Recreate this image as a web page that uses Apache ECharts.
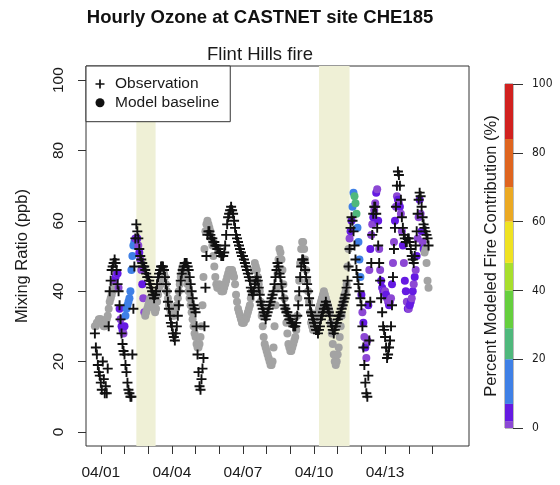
<!DOCTYPE html>
<html>
<head>
<meta charset="utf-8">
<script src="https://cdn.jsdelivr.net/npm/echarts@6/dist/echarts.min.js"></script>
<style>
  html, body { margin: 0; padding: 0; background: #ffffff; }
  #chart { width: 560px; height: 485px; }
</style>
</head>
<body>
<div id="chart"></div>
<script>
// Hourly values, first record at 03/31 18:00 local time.
// Time is counted in hours from 04/01 00:00.
const startHour = -6;

// Observed hourly ozone (ppb)
const observed = [
  28, 24, 22, 19, 17, 16,
  14, 12, 20, 15, 11, 13, 11, 18, 30, 40, 43, 46, 47, 48, 49, 48, 46, 42, 40, 36, 32, 28, 25, 23,
  22, 19, 17, 14, 12, 11, 10, 10, 22, 35, 47, 55, 59, 57, 55, 52, 50, 49, 48, 47, 47, 46, 45, 44,
  44, 43, 42, 41, 40, 39, 38, 39, 40, 42, 44, 45, 46, 47, 47, 47, 46, 44, 42, 40, 37, 35, 33, 31,
  30, 28, 27, 26, 28, 30, 33, 36, 40, 43, 45, 46, 47, 48, 48, 48, 47, 46, 44, 42, 40, 38, 36, 35,
  34, 30, 22, 17, 13, 12, 15, 18, 21, 30, 41, 50, 56, 57, 57, 56, 55, 55, 54, 54, 53, 53, 52, 52,
  51, 51, 50, 50, 50, 51, 53, 56, 59, 61, 62, 63, 64, 63, 62, 60, 58, 56, 55, 54, 53, 52, 51, 50,
  50, 49, 48, 47, 46, 45, 44, 43, 41, 40, 39, 40, 42, 43, 44, 43, 41, 39, 37, 36, 35, 34, 33, 32,
  33, 34, 35, 36, 37, 38, 39, 40, 42, 44, 46, 48, 47, 45, 44, 42, 40, 38, 36, 35, 34, 34, 33, 32,
  32, 31, 31, 30, 30, 30, 31, 33, 36, 40, 44, 47, 49, 49, 48, 46, 44, 42, 40, 38, 36, 34, 33, 32,
  31, 30, 29, 29, 28, 29, 30, 32, 33, 34, 35, 36, 37, 36, 35, 34, 33, 31, 30, 29, 28, 29, 30, 31,
  32, 33, 33, 34, 35, 36, 37, 38, 39, 41, 43, 47, 52, 58, 61, 60, 57, 53, 49, 46, 44, 42, 40, 38,
  36, 30, 24, 19, 14, 11, 10, 16, 26, 37, 48, 56, 62, 64, 64, 62, 58, 53, 48, 43, 38, 34, 30, 29,
  27, 24, 21, 22, 24, 26, 30, 36, 44, 52, 58, 64, 70, 74, 73, 70, 66, 61, 58, 56, 55, 54, 54, 55,
  55, 54, 52, 50, 49, 48, 50, 53, 57, 62, 66, 68, 67, 64, 61, 59, 58, 57, 56, 55, 53
];

// Model baseline hourly ozone (ppb)
const modelBaseline = [
  30, 30, 31, 31, 32, 32,
  32, 31, 31, 30, 30, 31, 32, 33, 35, 37, 38, 39, 40, 42, 43, 44, 45, 45, 41, 35, 32, 30, 29, 28,
  30, 33, 35, 36, 37, 38, 40, 46, 50, 53, 54, 55, 55, 55, 53, 51, 49, 46, 42, 38, 34, 33, 34, 35,
  36, 37, 38, 38, 37, 36, 35, 34, 35, 37, 39, 41, 43, 44, 45, 46, 45, 44, 42, 40, 38, 36, 35, 34,
  34, 33, 33, 34, 35, 36, 38, 40, 42, 44, 46, 47, 47, 46, 45, 44, 42, 40, 38, 36, 34, 32, 30, 28,
  27, 25, 24, 24, 25, 27, 30, 36, 44, 52, 57, 59, 60, 59, 58, 57, 55, 53, 50, 47, 44, 42, 41, 41,
  42, 41, 40, 40, 40, 41, 42, 43, 44, 45, 46, 46, 46, 46, 45, 44, 42, 39, 37, 35, 34, 33, 32, 31,
  31, 31, 32, 32, 33, 34, 35, 36, 38, 40, 43, 46, 48, 47, 46, 44, 42, 40, 37, 33, 30, 27, 25, 24,
  23, 22, 21, 20, 19, 19, 20, 24, 30, 36, 41, 45, 49, 52, 51, 49, 46, 42, 38, 35, 31, 28, 25, 24,
  23, 23, 24, 25, 26, 27, 29, 33, 38, 43, 48, 52, 54, 54, 52, 49, 46, 43, 40, 37, 34, 31, 30, 29,
  30, 31, 32, 33, 34, 35, 36, 37, 38, 39, 40, 39, 38, 37, 36, 35, 34, 31, 28, 25, 22, 20, 19, 20,
  22, 24, 27, 30, 33, 36, 38, 39, 40, 42, 47, 52, 55, 57, 60, 64, 68, 67, 65, 62, 58, 54, 49, 44,
  39, 34, 31, 27, 24, 21, 26, 36, 46, 52, 56, 59, 61, 63, 65, 68, 69, 60, 52, 46, 43, 41, 40, 40,
  40, 39, 38, 37, 36, 37, 38, 42, 48, 54, 60, 64, 67, 66, 65, 64, 62, 57, 53, 48, 43, 40, 37, 35,
  35, 36, 37, 38, 40, 42, 44, 46, 50, 55, 61, 66, 62, 57, 54, 52, 51, 52, 48, 43, 41
];

// Modeled fire contribution to the baseline (%), 0 = none
const firePercent = [
  0, 0, 0, 0, 0, 0,
  0, 0, 0, 0, 0, 0, 0, 0, 0, 0, 0, 0, 0, 0, 1.5, 4, 1.5, 5, 1.5, 4, 1.5, 5, 4, 1.5,
  4, 11, 12, 13, 14, 15, 14, 13, 12, 11, 12, 5, 1.5, 4, 1.5, 5, 1.5, 1.5, 4, 1.5, 1.5, 0, 0, 0,
  0, 0, 0, 0, 0, 0, 0, 0, 0, 0, 0, 0, 0, 0, 0, 0, 0, 0, 0, 0, 0, 0, 0, 0,
  0, 0, 0, 0, 0, 0, 0, 0, 0, 0, 0, 0, 0, 0, 0, 0, 0, 0, 0, 0, 0, 0, 0, 0,
  0, 0, 0, 0, 0, 0, 0, 0, 0, 0, 0, 0, 0, 0, 0, 0, 0, 0, 0, 0, 0, 0, 0, 0,
  0, 0, 0, 0, 0, 0, 0, 0, 0, 0, 0, 0, 0, 0, 0, 0, 0, 0, 0, 0, 0, 0, 0, 0,
  0, 0, 0, 0, 0, 0, 0, 0, 0, 0, 0, 0, 0, 0, 0, 0, 0, 0, 0, 0, 0, 0, 0, 0,
  0, 0, 0, 0, 0, 0, 0, 0, 0, 0, 0, 0, 0, 0, 0, 0, 0, 0, 0, 0, 0, 0, 0, 0,
  0, 0, 0, 0, 0, 0, 0, 0, 0, 0, 0, 0, 0, 0, 0, 0, 0, 0, 0, 0, 0, 0, 0, 0,
  0, 0, 0, 0, 0, 0, 0, 0, 0, 0, 0, 0, 0, 0, 0, 0, 0, 0, 0, 0, 0, 0, 0, 0,
  0, 0, 0, 0, 0, 0, 0, 0, 0, 0, 0, 0, 1.5, 4, 5, 13, 16, 24, 26, 23, 17, 15, 12, 9,
  4, 1.5, 5, 1.5, 4, 1.5, 1.5, 4, 1.5, 5, 1.5, 1.5, 4, 1.5, 1.5, 5, 1.5, 4, 1.5, 1.5, 4, 5, 1.5, 4,
  1.5, 4, 5, 1.5, 4, 1.5, 1.5, 4, 1.5, 1.5, 5, 1.5, 1.5, 4, 1.5, 5, 1.5, 1.5, 4, 1.5, 5, 4, 1.5, 4,
  1.5, 4, 5, 1.5, 4, 1.5, 5, 1.5, 4, 1.5, 1.5, 5, 1.5, 4, 1.5, 4, 0, 0, 0, 0, 0
];

// Fire periods (hours from 04/01 00:00)
const firePeriods = [[36, 55.5], [221, 252]];

// Axis ticks
const dayTicks = [0, 24, 48, 72, 96, 120, 144, 168, 192, 216, 240, 264, 288, 312, 336];
const dayLabelTicks = [0, 72, 144, 216, 288];
const ozoneTicks = [0, 20, 40, 60, 80, 100];
const percentTicks = [0, 20, 40, 60, 80, 100];

// Fire contribution colour scale
const colorBreaks = [0, 2, 7, 20, 29, 40, 48, 60, 70, 84, 100];
const colorSteps = ['#8c48d4', '#651ae2', '#3f80e6', '#4fb87c', '#66cf3e', '#a8df2c', '#efe222', '#eba923', '#df651f', '#d1211f'];
const noFireColor = '#a3a3a3';

const FONT = "'Liberation Sans', Arial, Helvetica, sans-serif";
const NARROW = "'Liberation Sans Narrow', 'DejaVu Sans Condensed', 'Liberation Sans', sans-serif";
const PLUS = 'path://M4.05,0H5.95V4.05H10V5.95H5.95V10H4.05V5.95H0V4.05H4.05Z';

function fireColor(p) {
  if (!p) return noFireColor;
  for (let k = 0; k < colorSteps.length; k++) {
    if (p < colorBreaks[k + 1]) return colorSteps[k];
  }
  return colorSteps[colorSteps.length - 1];
}

function dayLabel(h) {
  const d = Math.round(h / 24) + 1;
  return '04/' + String(d).padStart(2, '0');
}

const obsPoints = observed.map((v, i) => [startHour + i, v]);
const modelPoints = modelBaseline.map((v, i) => [startHour + i, v, firePercent[i]]);

// Colour bar built as stacked bars on its own 0-100 axis
const colorBarSeries = colorSteps.map((c, k) => ({
  type: 'bar',
  xAxisIndex: 1,
  yAxisIndex: 1,
  stack: 'bar',
  barWidth: '100%',
  silent: true,
  itemStyle: { color: c },
  data: [colorBreaks[k + 1] - colorBreaks[k]]
}));

const chart = echarts.init(document.getElementById('chart'), null, { renderer: 'canvas' });

chart.setOption({
  animation: false,
  backgroundColor: '#ffffff',
  textStyle: { fontFamily: FONT, color: '#1a1a1a' },
  graphic: [
    {
      type: 'text', x: 260, y: 17.5, silent: true,
      style: {
        text: 'Hourly Ozone at CASTNET site CHE185',
        font: 'bold 18.5px ' + FONT, fill: '#111',
        textAlign: 'center', textVerticalAlign: 'middle'
      }
    },
    {
      type: 'text', x: 260, y: 54.5, silent: true,
      style: {
        text: 'Flint Hills fire',
        font: '18.5px ' + FONT, fill: '#1a1a1a',
        textAlign: 'center', textVerticalAlign: 'middle'
      }
    }
  ],
  legend: {
    left: 86, top: 66,
    orient: 'vertical',
    selectedMode: false,
    backgroundColor: '#ffffff',
    borderColor: '#333',
    borderWidth: 1,
    padding: [10, 11, 11, 9.5],
    itemWidth: 9, itemHeight: 9, itemGap: 2.7,
    textStyle: { fontSize: 15.5, lineHeight: 16, color: '#1a1a1a', fontFamily: FONT, padding: [0, 0, 0, 5.5] },
    data: [
      { name: 'Observation', icon: PLUS, itemStyle: { color: '#111' } },
      { name: 'Model baseline', icon: 'circle', itemStyle: { color: '#111' } }
    ]
  },
  grid: [
    { left: 86, top: 66, width: 383, height: 380, show: true, borderColor: '#333', borderWidth: 1, backgroundColor: 'transparent' },
    { left: 505, top: 84, width: 8, height: 344, show: true, borderColor: '#555', borderWidth: 0.8, backgroundColor: 'transparent' }
  ],
  xAxis: [
    {
      type: 'value', gridIndex: 0, min: -15, max: 373,
      axisLine: { show: false, onZero: false },
      splitLine: { show: false },
      axisTick: { show: true, customValues: dayTicks, length: 8, lineStyle: { color: '#333', width: 1 } },
      axisLabel: { customValues: dayLabelTicks, formatter: dayLabel, fontSize: 15.5, color: '#1a1a1a', margin: 19, fontFamily: FONT }
    },
    {
      type: 'category', gridIndex: 1, data: ['bar'], show: false
    }
  ],
  yAxis: [
    {
      type: 'value', gridIndex: 0, min: -4, max: 104,
      axisLine: { show: false, onZero: false },
      splitLine: { show: false },
      axisTick: { show: true, customValues: ozoneTicks, length: 8, lineStyle: { color: '#333', width: 1 } },
      axisLabel: { customValues: ozoneTicks, rotate: 90, fontSize: 15.5, color: '#1a1a1a', margin: 19, fontFamily: FONT },
      name: 'Mixing Ratio (ppb)',
      nameLocation: 'middle',
      nameGap: 55,
      nameTextStyle: { fontSize: 16.5, color: '#1a1a1a', fontFamily: FONT }
    },
    {
      type: 'value', gridIndex: 1, min: 0, max: 100, position: 'right',
      axisLine: { show: false, onZero: false },
      splitLine: { show: false },
      axisTick: { show: true, customValues: percentTicks, length: 10, lineStyle: { color: '#333', width: 1 } },
      axisLabel: { customValues: percentTicks, fontSize: 12, color: '#1a1a1a', margin: 19, fontFamily: NARROW }
    },
    {
      type: 'value', gridIndex: 1, min: 0, max: 100, position: 'left',
      axisLine: { show: false, onZero: false }, axisTick: { show: false }, axisLabel: { show: false }, splitLine: { show: false },
      name: 'Percent Modeled Fire Contribution (%)',
      nameLocation: 'middle',
      nameGap: 5,
      nameTextStyle: { fontSize: 16.5, color: '#1a1a1a', fontFamily: FONT }
    }
  ],
  series: [
    {
      type: 'line', xAxisIndex: 0, yAxisIndex: 0, data: [], z: 1, silent: true,
      markArea: {
        silent: true,
        itemStyle: { color: '#eff0d6' },
        data: firePeriods.map(p => [{ xAxis: p[0] }, { xAxis: p[1] }])
      }
    },
    {
      name: 'Model baseline',
      type: 'scatter', xAxisIndex: 0, yAxisIndex: 0, z: 2,
      symbol: 'circle', symbolSize: 8,
      silent: true,
      itemStyle: { color: params => fireColor(params.data[2]), opacity: 1 },
      data: modelPoints
    },
    {
      name: 'Observation',
      type: 'scatter', xAxisIndex: 0, yAxisIndex: 0, z: 3,
      symbol: PLUS, symbolSize: 10,
      silent: true,
      itemStyle: { color: '#111', opacity: 1 },
      data: obsPoints
    }
  ].concat(colorBarSeries)
});
</script>
</body>
</html>
